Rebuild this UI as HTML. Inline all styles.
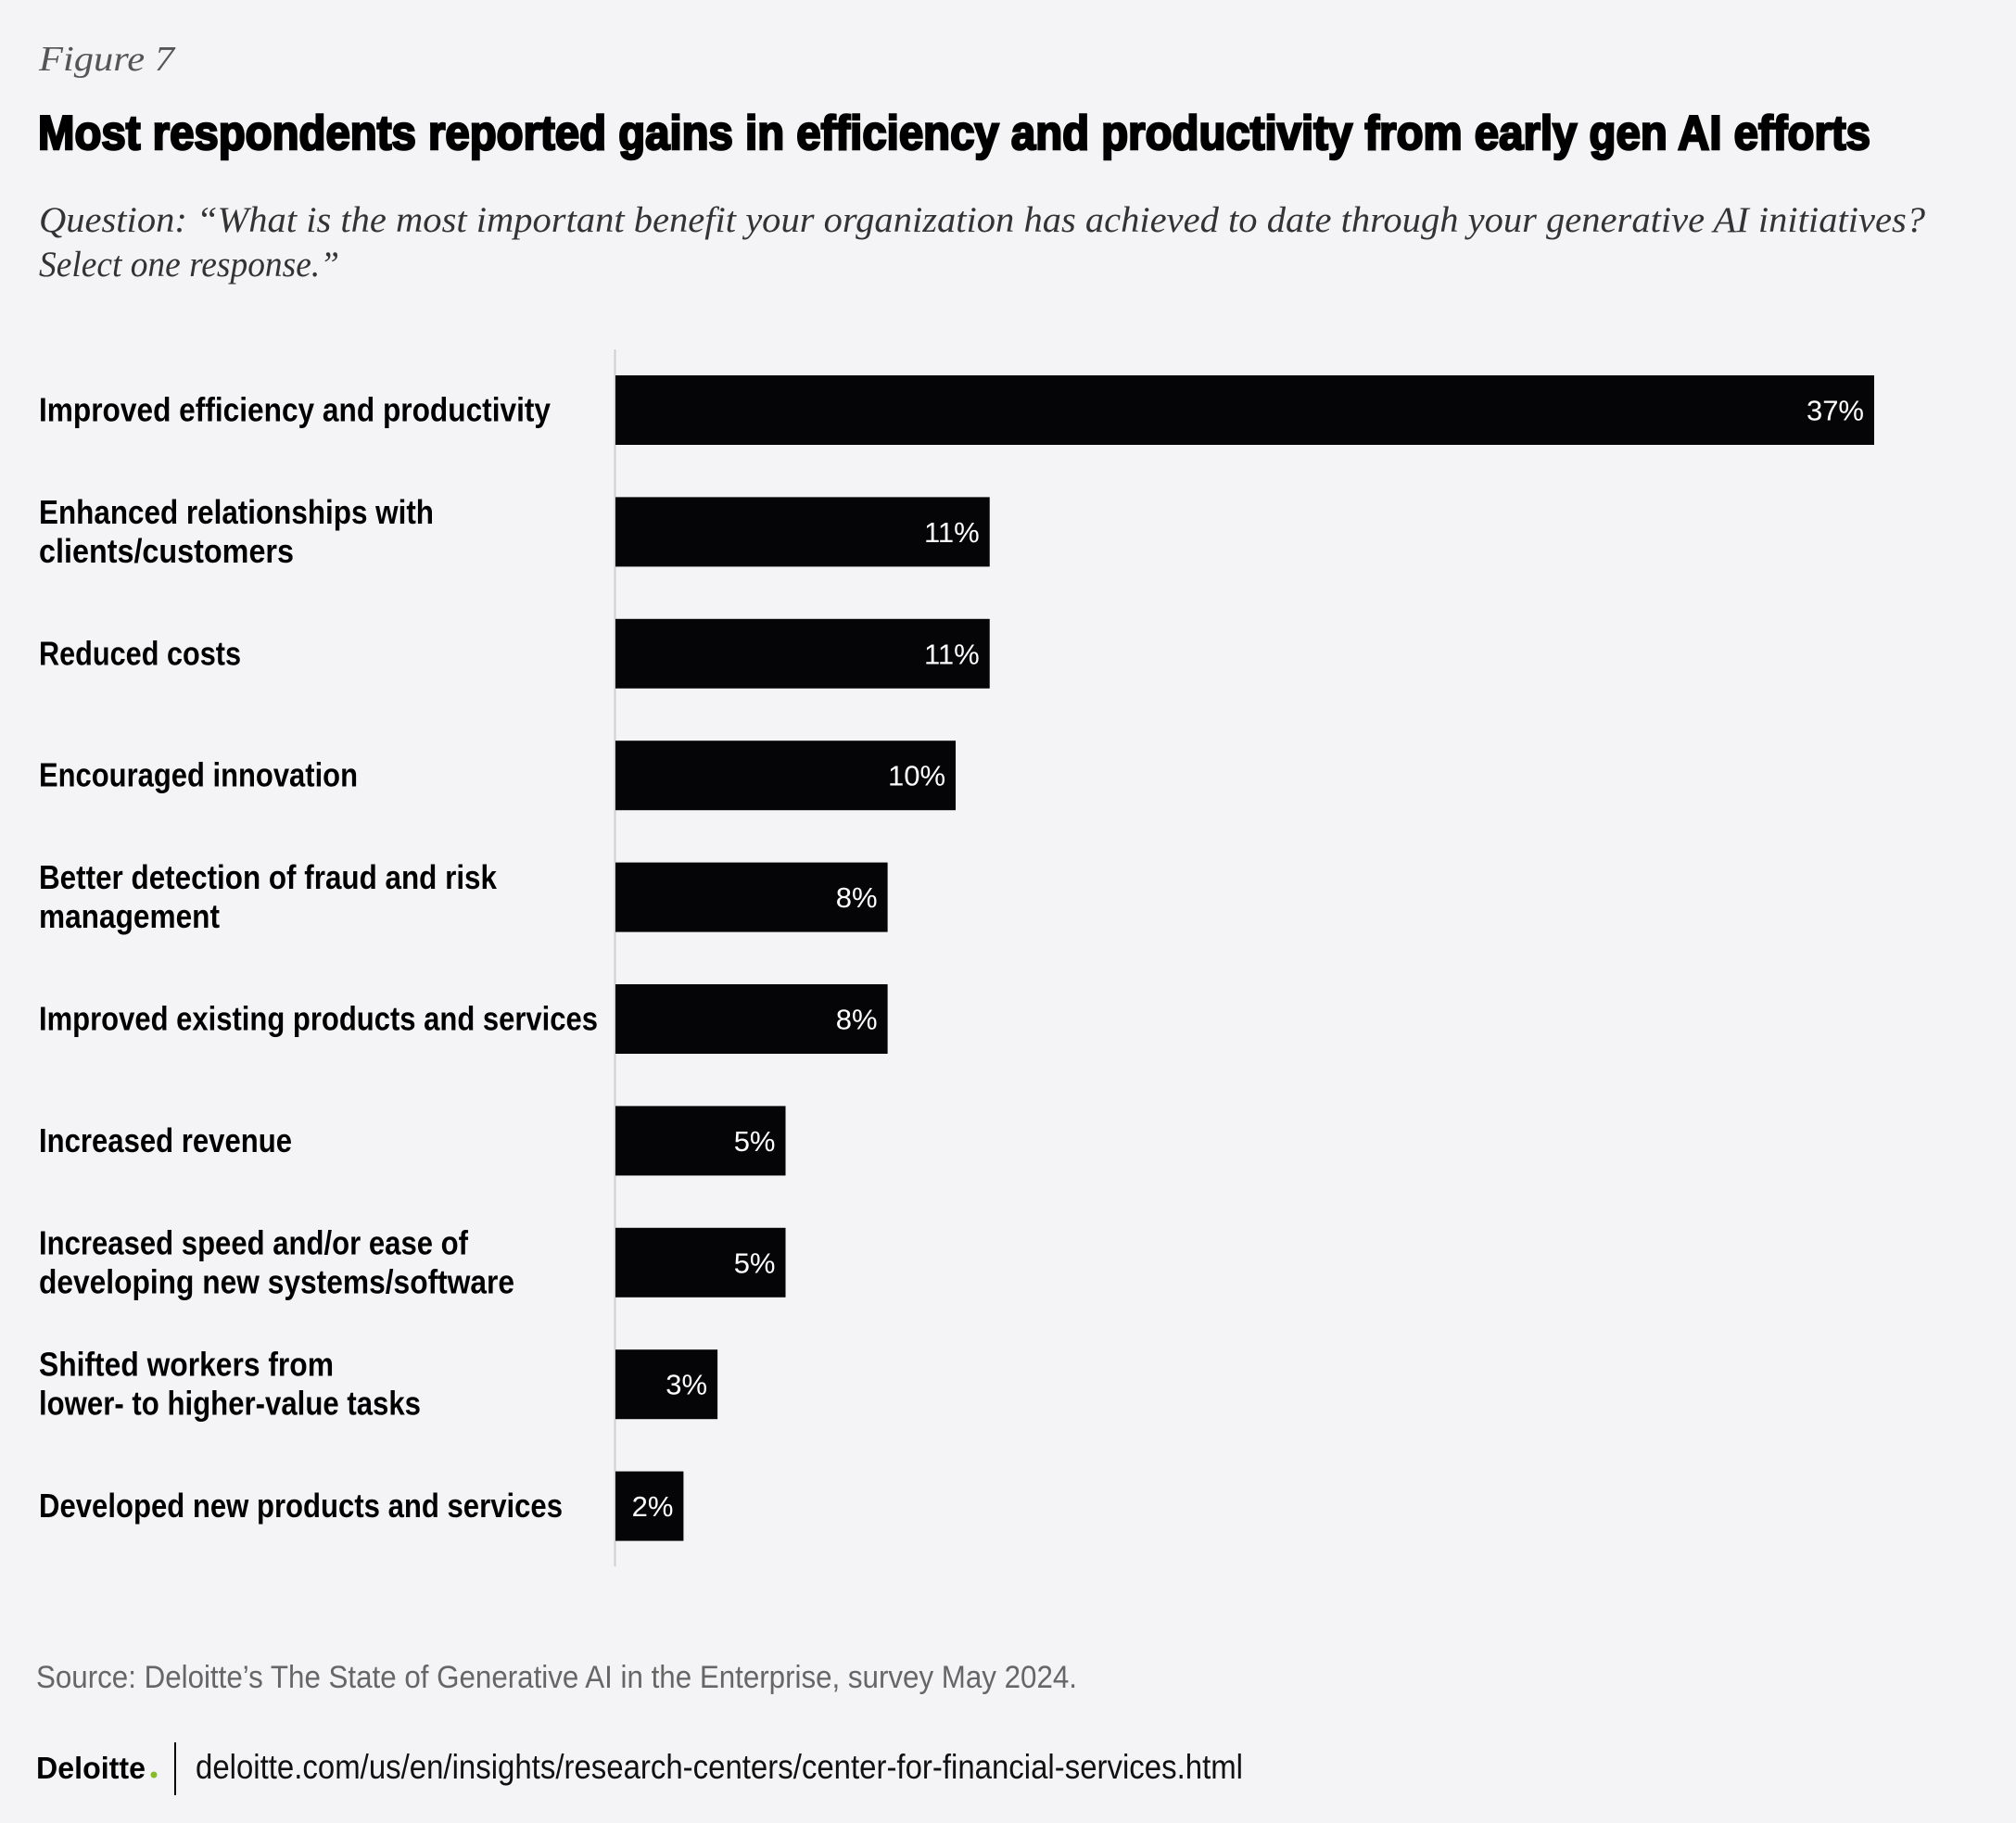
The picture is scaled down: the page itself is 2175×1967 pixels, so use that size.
<!DOCTYPE html>
<html><head><meta charset="utf-8">
<style>
html,body{margin:0;padding:0;background:#f4f4f6;}
svg{display:block;}
</style></head>
<body>
<svg id="chart" width="2175" height="1967" viewBox="0 0 2175 1967" xmlns="http://www.w3.org/2000/svg">
<rect width="2175" height="1967" fill="#f4f4f6"/>
<text x="42" y="76" font-family="Liberation Serif, serif" font-style="italic" font-size="38" fill="#555" textLength="146" lengthAdjust="spacingAndGlyphs">Figure 7</text>
<text x="41" y="161" font-family="'Liberation Sans Narrow','Liberation Sans',sans-serif" font-weight="bold" font-size="52" fill="#000" stroke="#000" stroke-width="2.5" textLength="1977" lengthAdjust="spacingAndGlyphs">Most respondents reported gains in efficiency and productivity from early gen AI efforts</text>
<text x="42" y="250" font-family="Liberation Serif, serif" font-style="italic" font-size="39" fill="#333" textLength="2035" lengthAdjust="spacingAndGlyphs">Question: “What is the most important benefit your organization has achieved to date through your generative AI initiatives?</text>
<text x="42" y="298" font-family="Liberation Serif, serif" font-style="italic" font-size="39" fill="#333" textLength="324" lengthAdjust="spacingAndGlyphs">Select one response.”</text>
<line x1="663.5" y1="377" x2="663.5" y2="1690" stroke="#cfcfd2" stroke-width="2"/>
<g id="bars"></g>
<text x="39" y="1821" font-family="'Liberation Sans Narrow','Liberation Sans',sans-serif" font-size="34" fill="#666" textLength="1123" lengthAdjust="spacingAndGlyphs">Source: Deloitte’s The State of Generative AI in the Enterprise, survey May 2024.</text>
<text x="39" y="1919" font-family="'Liberation Sans',sans-serif" font-weight="bold" font-size="33" fill="#000" textLength="118" lengthAdjust="spacingAndGlyphs">Deloitte</text>
<circle cx="166" cy="1915" r="3.5" fill="#86bc25"/>
<line x1="189" y1="1880" x2="189" y2="1937" stroke="#000" stroke-width="2"/>
<text x="211" y="1919" font-family="'Liberation Sans Narrow','Liberation Sans',sans-serif" font-size="37" fill="#111" textLength="1130" lengthAdjust="spacingAndGlyphs">deloitte.com/us/en/insights/research-centers/center-for-financial-services.html</text>
</svg>
<script>
const categories = [
  ["Improved efficiency and productivity"],
  ["Enhanced relationships with","clients/customers"],
  ["Reduced costs"],
  ["Encouraged innovation"],
  ["Better detection of fraud and risk","management"],
  ["Improved existing products and services"],
  ["Increased revenue"],
  ["Increased speed and/or ease of","developing new systems/software"],
  ["Shifted workers from","lower- to higher-value tasks"],
  ["Developed new products and services"]
];
const values = [37, 11, 11, 10, 8, 8, 5, 5, 3, 2];
const valueLabels = ["37%","11%","11%","10%","8%","8%","5%","5%","3%","2%"];
const labelWidths = [
  [552],[426,275],[218],[344],[494,195],[603],[273],[463,513],[318,412],[565]
];
const NS = "http://www.w3.org/2000/svg";
const x0 = 664, pxPerUnit = (2022 - 664) / 37;
const xScale = v => x0 + v * pxPerUnit;
const yTop = i => 405 + i * 131.4;
const barH = 75;
const g = document.getElementById('bars');
categories.forEach((lines, i) => {
  const y = yTop(i), cy = y + barH / 2;
  const r = document.createElementNS(NS, 'rect');
  
  
  r.setAttribute('x', x0);
  r.setAttribute('y', y);
  r.setAttribute('width', xScale(values[i]) - x0);
  r.setAttribute('height', barH);
  r.setAttribute('fill', '#050507');
  g.appendChild(r);
  const vt = document.createElementNS(NS, 'text');
  
  
  vt.setAttribute('x', xScale(values[i]) - 11);
  vt.setAttribute('y', cy + 11);
  vt.setAttribute('text-anchor', 'end');
  vt.setAttribute('font-family', "'Liberation Sans Narrow','Liberation Sans',sans-serif");
  vt.setAttribute('font-size', '31');
  vt.setAttribute('fill', '#fff');
  vt.textContent = valueLabels[i];
  g.appendChild(vt);
  const baseY = lines.length === 1 ? [cy + 12] : [cy - 9, cy + 33];
  lines.forEach((ln, j) => {
    const t = document.createElementNS(NS, 'text');
    
    
    t.setAttribute('x', 42);
    t.setAttribute('y', baseY[j]);
    t.setAttribute('font-family', "'Liberation Sans Narrow','Liberation Sans',sans-serif");
    t.setAttribute('font-weight', 'bold');
    t.setAttribute('font-size', '36');
    t.setAttribute('fill', '#000');
    t.setAttribute('textLength', labelWidths[i][j]);
    t.setAttribute('lengthAdjust', 'spacingAndGlyphs');
    t.textContent = ln;
    g.appendChild(t);
  });
});
</script>
</body></html>
